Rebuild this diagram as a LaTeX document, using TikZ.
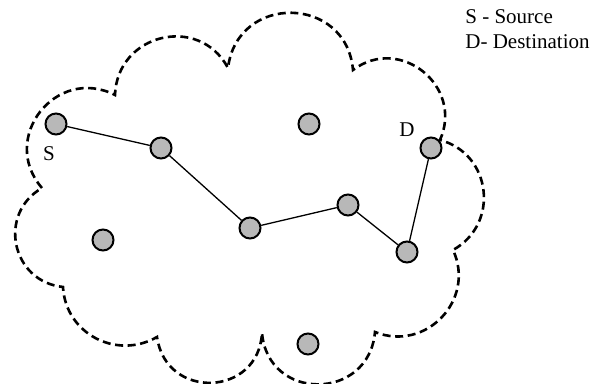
\documentclass[tikz,border=0pt]{standalone}
\usepackage{fontspec}
\setmainfont{Liberation Serif}
\usetikzlibrary{positioning}

\begin{document}
\begin{tikzpicture}[
    x=0.5pt, y=0.5pt,
    host/.style={circle, draw, line width=1pt, fill=black!28, minimum size=10.5pt, inner sep=0pt},
    link/.style={line width=0.65pt},
    boundary/.style={line width=1.3pt, dash pattern=on 4pt off 2.3pt},
    tag/.style={font=\fontsize{10.5}{12}\selectfont, inner sep=1pt},
]
\useasboundingbox (0,0) rectangle (591,384);

% Network boundary
\draw[boundary] (42,196)
    to[out=131, in=153, looseness=1.43] (115,289)
    to[out=88, in=118, looseness=1.35] (228,316)
    to[out=83, in=95, looseness=1.54] (353,314)
    to[out=37, in=66, looseness=1.35] (440,244)
    to[out=-15, in=29, looseness=1.24] (453,134)
    to[out=-65, in=-22, looseness=1.24] (375,52)
    to[out=-95, in=-85, looseness=1.57] (262,51)
    to[out=-93, in=-82, looseness=1.56] (157,47)
    to[out=210, in=273, looseness=1.12] (63,97)
    to[out=174, in=210, looseness=1.31] (42,196);

% Hosts
\node[host] (src) at (56,260)  {};
\node[host] (n1)  at (161,236) {};
\node[host] (n2)  at (309,260) {};
\node[host] (dst) at (431,236) {};
\node[host] (n3)  at (103,144) {};
\node[host] (n4)  at (250,156) {};
\node[host] (n5)  at (348,179) {};
\node[host] (n6)  at (407,132) {};
\node[host] (n7)  at (308,40)  {};

% Route
\draw[link] (src) -- (n1);
\draw[link] (n1) -- (n4);
\draw[link] (n4) -- (n5);
\draw[link] (n5) -- (n6);
\draw[link] (n6) -- (dst);

% Labels
\node[tag] (srclabel) at (49,230) {S};
\node[tag] (dstlabel) at (407,254) {D};
\node[tag, anchor=west] (key1) at (463,367) {S - Source};
\node[tag, anchor=west] (key2) at (463,342) {D- Destination};
\end{tikzpicture}
\end{document}
